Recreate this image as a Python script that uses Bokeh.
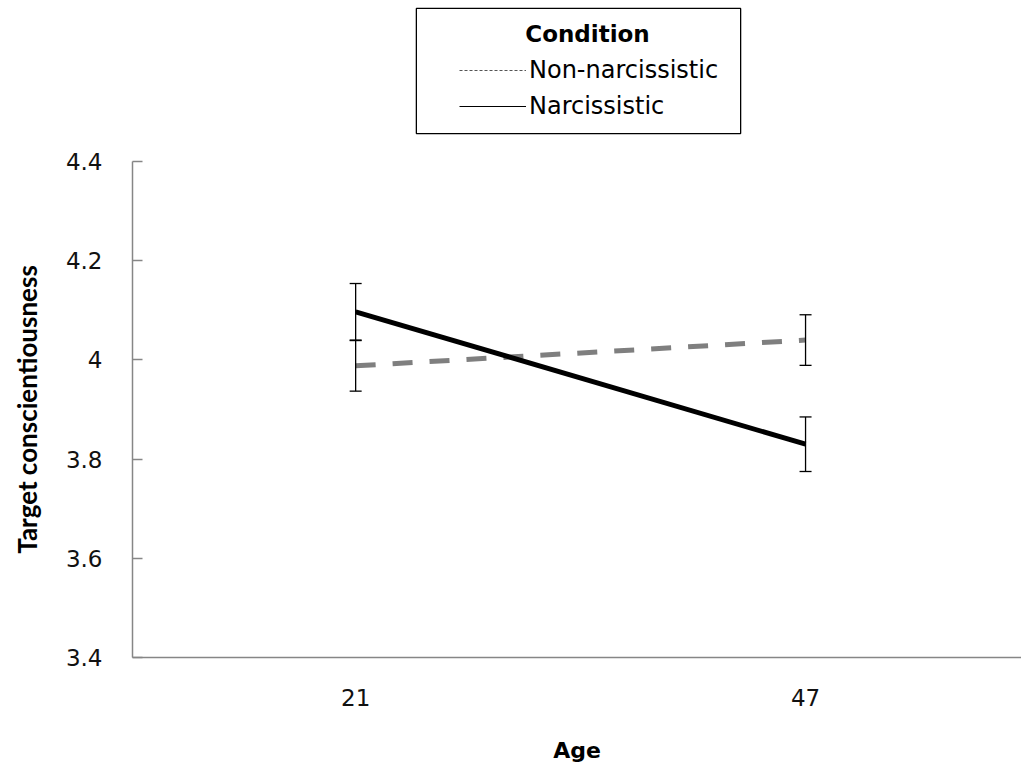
from bokeh.plotting import figure
from bokeh.layouts import column
from bokeh.models import (Range1d, FixedTicker, NumeralTickFormatter, ColumnDataSource,
                          Whisker, TeeHead, Legend, LegendItem, Label)
from bokeh.embed import file_html
from bokeh.resources import INLINE

ages = ["21", "47"]
non_narc_mean = [3.988, 4.040]
non_narc_se = [0.051, 0.051]
narc_mean = [4.097, 3.830]
narc_se = [0.057, 0.055]
y_ticks = [3.4, 3.6, 3.8, 4.0, 4.2, 4.4]

FONT = "DejaVu Sans"
xpos = [i + 0.5 for i in range(len(ages))]

# ---------------- main chart ----------------
p = figure(width=1021, height=625, output_backend="svg", toolbar_location=None,
           x_range=Range1d(0.004, 1.98), y_range=Range1d(3.4, 4.4),
           min_border_left=132, min_border_right=0, min_border_top=21, min_border_bottom=107)
p.outline_line_color = None
p.xgrid.visible = False
p.ygrid.visible = False

p.line(xpos, non_narc_mean, line_color="#7f7f7f", line_width=5, line_dash="20 17")
p.line(xpos, narc_mean, line_color="black", line_width=5)

for m, s in ((non_narc_mean, non_narc_se), (narc_mean, narc_se)):
    src = ColumnDataSource(dict(x=xpos,
                                upper=[a + b for a, b in zip(m, s)],
                                lower=[a - b for a, b in zip(m, s)]))
    w = Whisker(base="x", upper="upper", lower="lower", source=src, dimension="height",
                line_color="black", line_width=1.3,
                upper_head=TeeHead(size=12, line_width=1.3, line_color="black"),
                lower_head=TeeHead(size=12, line_width=1.3, line_color="black"),
                level="overlay")
    p.add_layout(w)

p.xaxis.ticker = FixedTicker(ticks=xpos)
p.xaxis.major_label_overrides = {x: a for x, a in zip(xpos, ages)}
p.xaxis.major_tick_in = 0
p.xaxis.major_tick_out = 0
p.xaxis.minor_tick_line_color = None
p.xaxis.axis_line_color = "#868686"
p.xaxis.axis_line_width = 1.5
p.xaxis.major_label_text_font = FONT
p.xaxis.major_label_text_font_size = "23px"
p.xaxis.major_label_text_color = "#111111"
p.xaxis.major_label_standoff = 31
p.xaxis.axis_label = "Age"
p.xaxis.axis_label_text_font = FONT
p.xaxis.axis_label_text_font_size = "22px"
p.xaxis.axis_label_text_font_style = "bold"
p.xaxis.axis_label_text_color = "black"
p.xaxis.axis_label_standoff = 29

p.yaxis.ticker = FixedTicker(ticks=y_ticks)
p.yaxis.formatter = NumeralTickFormatter(format="0.[0]")
p.yaxis.major_tick_in = 10
p.yaxis.major_tick_out = 0
p.yaxis.minor_tick_line_color = None
p.yaxis.axis_line_color = "#868686"
p.yaxis.axis_line_width = 1.5
p.yaxis.major_tick_line_color = "#868686"
p.yaxis.major_tick_line_width = 1.5
p.yaxis.major_label_text_font = FONT
p.yaxis.major_label_text_font_size = "23px"
p.yaxis.major_label_text_color = "#111111"
p.yaxis.major_label_standoff = 30
p.yaxis.axis_label = "Target conscientiousness"
p.yaxis.axis_label_text_font = "Lato"
p.yaxis.axis_label_text_font_size = "26px"
p.yaxis.axis_label_text_font_style = "bold"
p.yaxis.axis_label_text_color = "black"
p.yaxis.axis_label_standoff = 20

# ---------------- legend strip above ----------------
lg = figure(width=1021, height=140, output_backend="svg", toolbar_location=None,
            x_range=Range1d(0.004, 1.98), y_range=Range1d(3.4, 4.4),
            x_axis_type=None, y_axis_type=None,
            min_border_left=0, min_border_right=0, min_border_top=0, min_border_bottom=0)
lg.outline_line_color = None
lg.xgrid.visible = False
lg.ygrid.visible = False

box = Label(x=446, y=69.5, x_units="screen", y_units="screen", text=" ",
            text_font_size="1px", text_align="center", text_baseline="middle",
            padding=(162, 62), border_line_color="black", border_line_width=1.3,
            background_fill_color="white")
lg.add_layout(box)
title = Label(x=455, y=107, x_units="screen", y_units="screen", text="Condition",
              text_font=FONT, text_font_size="23px", text_font_style="bold",
              text_align="center", text_baseline="middle", text_color="black")
lg.add_layout(title)

r_non = lg.line(xpos, non_narc_mean, line_color="#555555", line_width=1.2, line_dash="3 2", visible=False)
r_nar = lg.line(xpos, narc_mean, line_color="black", line_width=1.2, visible=False)
legend = Legend(items=[LegendItem(label="Non-narcissistic", renderers=[r_non]),
                       LegendItem(label="Narcissistic", renderers=[r_nar])],
                location=(327, 19), padding=0, margin=0, spacing=6,
                glyph_width=67, glyph_height=30, label_height=30, label_standoff=3,
                label_text_font=FONT, label_text_font_size="24px", label_text_color="black",
                border_line_color=None, background_fill_alpha=0,
                inactive_fill_alpha=0)
lg.add_layout(legend, "center")

layout = column(lg, p, spacing=0)
open("out.html", "w").write(file_html(layout, INLINE))
